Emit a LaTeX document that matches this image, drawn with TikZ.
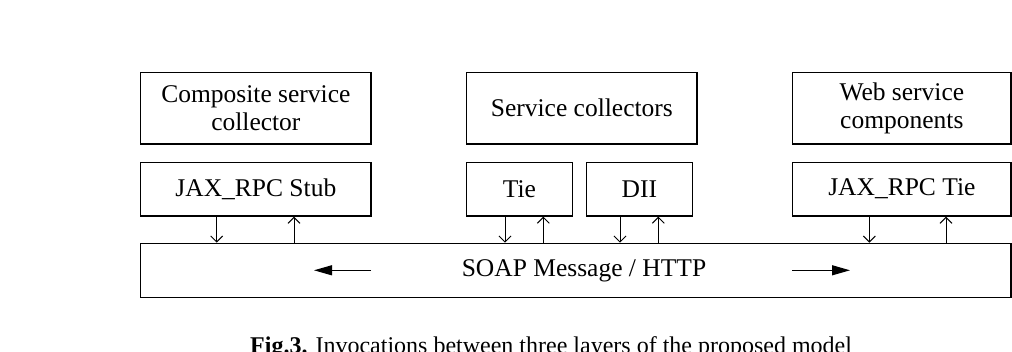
\documentclass[tikz,border=0pt]{standalone}
\usepackage{fontspec}
\setmainfont{Liberation Serif}
\usetikzlibrary{arrows.meta}
\begin{document}
\begin{tikzpicture}[x=1pt,y=-1pt,
  box/.style={draw,line width=1.2pt,inner sep=0pt,align=center,
    font=\fontsize{25.5}{28.5}\selectfont},
  txt/.style={inner sep=0pt,font=\fontsize{25.5}{28.5}\selectfont},
  dn/.style={line width=1pt,-{Straight Barb[length=6pt,width=12pt,line width=1pt]}},
  bigarr/.style={line width=1.2pt,-{Triangle[length=18pt,width=10pt]}}]
\useasboundingbox (0,0) rectangle (1012,352);
\clip (0,0) rectangle (1012,352);
% upper layer
\node[box,minimum width=230.3pt,minimum height=71.7pt] (comp) at (255.85,108.15) {Composite service\\collector};
\node[box,minimum width=230.3pt,minimum height=71.7pt] (sc) at (581.85,108.15) {Service collectors};
\node[box,minimum width=218.3pt,minimum height=71.7pt] (wsc) at (901.85,108.15) {Web service\\components};
% middle layer
\node[box,minimum width=230.3pt,minimum height=53.7pt] (stub) at (255.85,189.15) {JAX\_RPC Stub};
\node[box,minimum width=105.6pt,minimum height=53.7pt] (tie) at (519.5,189.15) {Tie};
\node[box,minimum width=106pt,minimum height=53.7pt] (dii) at (639.3,189.15) {DII};
\node[box,minimum width=218.3pt,minimum height=53.7pt] (jtie) at (901.85,189.15) {JAX\_RPC Tie};
% transport
\node[box,minimum width=870.3pt,minimum height=54pt] (soap) at (575.85,270.3) {};
\node[txt] (soaptxt) at (584,271) {SOAP Message / HTTP};
% arrow columns
\coordinate (a1) at (216.7,0);
\coordinate (a2) at (294,0);
\coordinate (a3) at (505,0);
\coordinate (a4) at (543.3,0);
\coordinate (a5) at (620,0);
\coordinate (a6) at (658.3,0);
\coordinate (a7) at (869.3,0);
\coordinate (a8) at (946,0);
\draw[dn] (stub.south -| a1) -- (soap.north -| a1);
\draw[dn] (soap.north -| a2) -- (stub.south -| a2);
\draw[dn] (tie.south -| a3) -- (soap.north -| a3);
\draw[dn] (soap.north -| a4) -- (tie.south -| a4);
\draw[dn] (dii.south -| a5) -- (soap.north -| a5);
\draw[dn] (soap.north -| a6) -- (dii.south -| a6);
\draw[dn] (jtie.south -| a7) -- (soap.north -| a7);
\draw[dn] (soap.north -| a8) -- (jtie.south -| a8);
% direction arrows
\coordinate (l1) at (371,270.3);
\coordinate (l2) at (314,270.3);
\coordinate (r1) at (792,270.3);
\coordinate (r2) at (850,270.3);
\draw[bigarr] (l1) -- (l2);
\draw[bigarr] (r1) -- (r2);
% caption (cut off by the frame, as in the reference)
\node[txt,anchor=base west,font=\fontsize{24}{28}\selectfont] (cap) at (250,354) {\textbf{Fig.3.} Invocations between three layers of the proposed model};
\end{tikzpicture}
\end{document}
